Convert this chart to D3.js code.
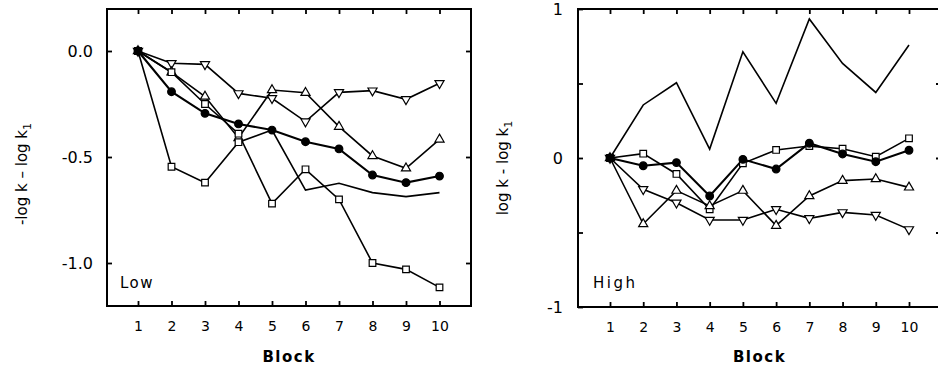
<!DOCTYPE html>
<html>
<head>
<meta charset="utf-8">
<script src="https://cdn.jsdelivr.net/npm/d3@7"></script>
<style>
  body { margin: 0; background: #fff; }
  svg text { font-family: "DejaVu Sans", sans-serif; fill: #000; }
</style>
</head>
<body>
<div id="chart"></div>
<script>
(function() {
    "use strict";

    var blocks = [1, 2, 3, 4, 5, 6, 7, 8, 9, 10];

    // Low panel, one array per series (symbol in the name).
    var lowTriDown = [0, -0.058, -0.063, -0.20, -0.223, -0.333, -0.195, -0.187, -0.228, -0.152];
    var lowTriUp   = [0, -0.10, -0.215, -0.41, -0.184, -0.197, -0.357, -0.495, -0.553, -0.417];
    var lowDot     = [0, -0.192, -0.294, -0.344, -0.373, -0.428, -0.462, -0.585, -0.621, -0.59];
    var lowSquareA = [0, -0.10, -0.25, -0.39, -0.72, -0.558, -0.70, -1.0, -1.03, -1.115];
    var lowSquareB = [0, -0.546, -0.621, -0.43, -0.373, -0.656, -0.624, -0.668, -0.687, -0.668];

    // High panel.
    var highPlain   = [0, 0.356, 0.505, 0.06, 0.713, 0.367, 0.933, 0.635, 0.44, 0.758];
    var highSquare  = [0, 0.029, -0.107, -0.344, -0.036, 0.054, 0.08, 0.062, 0.009, 0.132];
    var highDot     = [0, -0.052, -0.031, -0.255, -0.009, -0.074, 0.099, 0.027, -0.025, 0.052];
    var highTriUp   = [0, -0.443, -0.219, -0.322, -0.219, -0.454, -0.255, -0.152, -0.141, -0.197];
    var highTriDown = [0, -0.21, -0.30, -0.416, -0.416, -0.344, -0.405, -0.365, -0.383, -0.479];

    var lowTicks = [0, -0.5, -1.0];
    var lowTickLabels = ["0.0", "-0.5", "-1.0"];
    var highTicks = [1, 0.5, 0, -0.5, -1];
    var highTickLabels = ["1", "", "0", "", "-1"];

    var svg = d3.select("#chart").append("svg")
        .attr("width", 938)
        .attr("height", 369);

    // Draws one panel: frame, inward ticks, labels and the series.
    function panel(opt) {
        var g = svg.append("g");
        var x = d3.scaleLinear().domain([1, 10]).range(opt.xr);
        var y = d3.scaleLinear().domain(opt.yd).range(opt.yr);
        var left = opt.box[0], top = opt.box[1], right = opt.box[2], bottom = opt.box[3];

        var bottomAxis = g.append("g")
            .attr("transform", "translate(0," + bottom + ")")
            .call(d3.axisBottom(x).tickValues(blocks).tickSize(-5).tickPadding(15)
                .tickFormat(d3.format("d")));
        var topAxis = g.append("g")
            .attr("transform", "translate(0," + top + ")")
            .call(d3.axisTop(x).tickValues(blocks).tickSize(-5).tickFormat(""));
        var leftAxis = g.append("g")
            .attr("transform", "translate(" + left + ",0)")
            .call(d3.axisLeft(y).tickValues(opt.ticks).tickSize(-5).tickPadding(opt.pad)
                .tickFormat(function(d, i) { return opt.tickLabels[i]; }));
        var rightAxis = g.append("g")
            .attr("transform", "translate(" + right + ",0)")
            .call(d3.axisRight(y).tickValues(opt.rightTicks).tickSize(-5).tickFormat(""));

        [bottomAxis, topAxis, leftAxis, rightAxis].forEach(function(a) {
            a.select(".domain").remove();
            a.selectAll("line").attr("stroke", "#000").attr("stroke-width", 1.8);
            a.selectAll("text").attr("fill", "#000").attr("font-family", "DejaVu Sans");
        });
        bottomAxis.selectAll("text").attr("font-size", 14);
        leftAxis.selectAll("text").attr("font-size", 16);

        g.append("rect")
            .attr("x", left).attr("y", top)
            .attr("width", right - left).attr("height", bottom - top)
            .attr("fill", "none").attr("stroke", "#000").attr("stroke-width", 2);

        var line = d3.line()
            .x(function(d, i) { return x(blocks[i]); })
            .y(function(d) { return y(d); });

        opt.series.forEach(function(s) {
            g.append("path")
                .datum(s.values)
                .attr("d", line)
                .attr("fill", "none")
                .attr("stroke", "#000")
                .attr("stroke-width", s.marker === "dot" ? 2.1 : 1.6)
                .attr("stroke-linejoin", "miter");
        });

        // dots go last so the shared start point shows filled
        var order = opt.series.filter(function(s) { return s.marker && s.marker !== "dot"; })
            .concat(opt.series.filter(function(s) { return s.marker === "dot"; }));

        order.forEach(function(s) {
            var sym = {
                "square": d3.symbolSquare,
                "dot": d3.symbolCircle,
                "up": d3.symbolTriangle,
                "down": d3.symbolTriangle
            }[s.marker];
            var size = { "square": 44, "dot": 46, "up": 36, "down": 36 }[s.marker];
            g.selectAll(null)
                .data(s.values.slice(0, s.shown || s.values.length))
                .enter()
                .append("path")
                .attr("d", d3.symbol().type(sym).size(size))
                .attr("transform", function(d, i) {
                    return "translate(" + x(blocks[i]) + "," + y(d) + ")" +
                        (s.marker === "down" ? " rotate(180)" : "");
                })
                .attr("fill", s.marker === "dot" ? "#000" : "#fff")
                .attr("stroke", "#000")
                .attr("stroke-width", 1.2);
        });

        g.append("text")
            .attr("x", opt.tagX).attr("y", 288)
            .attr("font-size", 15)
            .attr("letter-spacing", opt.tagSpace)
            .text(opt.tag);

        g.append("text")
            .attr("x", (left + right) / 2).attr("y", 362)
            .attr("text-anchor", "middle")
            .attr("font-size", 15)
            .attr("font-weight", "bold")
            .attr("letter-spacing", 1.5)
            .text("Block");

        var title = g.append("text")
            .attr("transform", "translate(" + opt.titleX + "," + opt.titleY + ") rotate(-90)")
            .attr("text-anchor", "middle")
            .attr("font-size", 15);
        title.append("tspan").text(opt.title);
        title.append("tspan").attr("dy", 4).attr("font-size", 11).text("1");
    }

    panel({
        box: [107, 9, 471, 306],
        xr: [138, 439.5],
        yd: [0, -1], yr: [51, 263],
        ticks: lowTicks, tickLabels: lowTickLabels, rightTicks: lowTicks, pad: 14,
        tag: "Low", tagX: 120, tagSpace: 1.5,
        title: "-log k  \u2013  log k", titleX: 27, titleY: 174,
        series: [
            { values: lowTriDown, marker: "down" },
            { values: lowTriUp, marker: "up" },
            { values: lowDot, marker: "dot" },
            { values: lowSquareA, marker: "square" },
            { values: lowSquareB, marker: "square", shown: 4 }
        ]
    });

    panel({
        box: [578, 9, 941, 307],
        xr: [610, 909],
        yd: [-1, 1], yr: [307, 9],
        ticks: highTicks, tickLabels: highTickLabels, rightTicks: [0.5, 0, -0.5], pad: 15,
        tag: "High", tagX: 593, tagSpace: 2.5,
        title: "log k - log k", titleX: 508, titleY: 168,
        series: [
            { values: highPlain, marker: null },
            { values: highSquare, marker: "square" },
            { values: highDot, marker: "dot" },
            { values: highTriUp, marker: "up" },
            { values: highTriDown, marker: "down" }
        ]
    });
})();
</script>
</body>
</html>
